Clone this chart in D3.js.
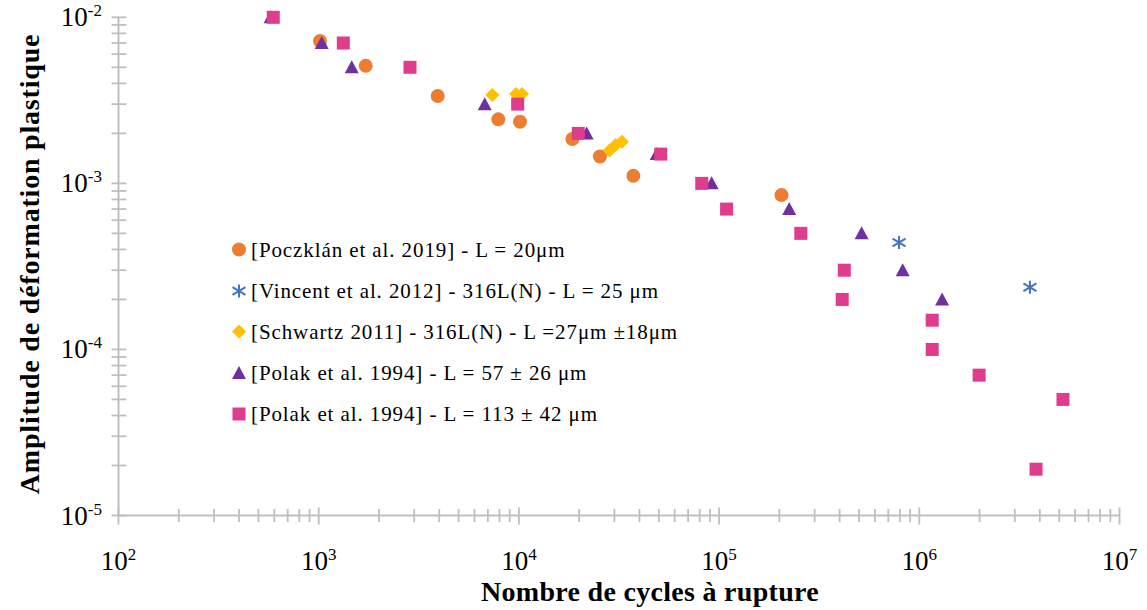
<!DOCTYPE html>
<html>
<head>
<meta charset="utf-8">
<script src="https://cdn.jsdelivr.net/npm/d3@7"></script>
<style>
  html, body { margin: 0; padding: 0; background: #fff; }
  svg { display: block; }
  text { font-family: "Liberation Serif", "Times New Roman", serif; fill: #000; }
</style>
</head>
<body>
<svg id="chart" width="1147" height="610"></svg>
<script>
// ---- Data ----
const seriesNames = [
  "[Poczklán et al. 2019] - L = 20μm",
  "[Vincent et al. 2012] - 316L(N) - L = 25 μm",
  "[Schwartz 2011] - 316L(N) - L =27μm ±18μm",
  "[Polak et al. 1994] - L = 57 ± 26 μm",
  "[Polak et al. 1994] - L = 113 ± 42 μm"
];
const seriesColors = ["#ED7D31", "#4472C4", "#FFC000", "#7030A0", "#E03C8E"];
const seriesShapes = ["circle", "asterisk", "diamond", "triangle", "square"];

const poczklanN   = [1015, 1717, 3930, 7890, 10130, 18500, 25400, 37300, 205000];
const poczklanEps = [7.2e-3, 5.1e-3, 3.36e-3, 2.43e-3, 2.35e-3, 1.85e-3, 1.45e-3, 1.11e-3, 8.5e-4];

const vincentN   = [792000, 3570000];
const vincentEps = [4.4e-4, 2.37e-4];

const schwartzN   = [7370, 9670, 10360, 28350, 30400, 32700];
const schwartzEps = [3.4e-3, 3.45e-3, 3.45e-3, 1.58e-3, 1.70e-3, 1.78e-3];

const polak57N   = [575, 1035, 1462, 6750, 21800, 48800, 91800, 224000, 515000, 826000, 1300000];
const polak57Eps = [1e-2, 7e-3, 5e-3, 3e-3, 2e-3, 1.5e-3, 1e-3, 7e-4, 5e-4, 3e-4, 2e-4];

const polak113N   = [593, 1327, 2858, 9860, 19800, 51100, 81900, 109000, 256000, 422000, 412000, 1160000, 1160000, 1990000, 5220000, 3830000];
const polak113Eps = [1e-2, 7e-3, 5e-3, 3e-3, 2e-3, 1.5e-3, 1e-3, 7e-4, 5e-4, 3e-4, 2e-4, 1.5e-4, 1e-4, 7e-5, 5e-5, 1.9e-5];

const xTickExps = [2, 3, 4, 5, 6, 7];
const yTickExps = [-5, -4, -3, -2];
const xTitle = "Nombre de cycles à rupture";
const yTitle = "Amplitude de déformation plastique";

const seriesData = [
  [poczklanN, poczklanEps],
  [vincentN, vincentEps],
  [schwartzN, schwartzEps],
  [polak57N, polak57Eps],
  [polak113N, polak113Eps]
];

// ---- Layout ----
const svg = d3.select("#chart");
const x = d3.scaleLog().domain([1e2, 1e7]).range([118.5, 1119.5]);
const y = d3.scaleLog().domain([1e-5, 1e-2]).range([515.5, 17.3]);
const axisColor = "#BFBFBF";

function logTicks(lo, hi) {
  const out = [];
  for (let e = lo; e < hi; e++) for (let m = 1; m < 10; m++) out.push(m * Math.pow(10, e));
  out.push(Math.pow(10, hi));
  return out;
}
const isMajor = d => Math.abs(Math.log10(d) - Math.round(Math.log10(d))) < 1e-9;

const gAxes = svg.append("g");
// Y axis
gAxes.append("line").attr("x1", x(1e2)).attr("x2", x(1e2)).attr("y1", y(1e-2)).attr("y2", y(1e-5))
  .attr("stroke", axisColor).attr("stroke-width", 2);
gAxes.selectAll(".yt").data(logTicks(-5, -2)).enter().append("line")
  .attr("x1", x(1e2) - 7).attr("x2", x(1e2) + 8)
  .attr("y1", d => y(d)).attr("y2", d => y(d))
  .attr("stroke", axisColor).attr("stroke-width", 1.8);
// X axis
gAxes.append("line").attr("x1", x(1e2)).attr("x2", x(1e7)).attr("y1", y(1e-5)).attr("y2", y(1e-5))
  .attr("stroke", axisColor).attr("stroke-width", 2);
gAxes.selectAll(".xt").data(logTicks(2, 7)).enter().append("line")
  .attr("x1", d => x(d)).attr("x2", d => x(d))
  .attr("y1", d => y(1e-5) - (isMajor(d) ? 8 : 6.5))
  .attr("y2", d => y(1e-5) + (isMajor(d) ? 9 : 6.5))
  .attr("stroke", axisColor).attr("stroke-width", 1.8);

// tick labels
const yl = svg.append("g");
yTickExps.forEach(e => {
  const t = yl.append("text").attr("x", 102).attr("y", y(Math.pow(10, e)) + 9)
    .attr("text-anchor", "end").style("font-size", "27px");
  t.append("tspan").text("10");
  t.append("tspan").attr("dy", -10).style("font-size", "17px").text(String(e));
});
xTickExps.forEach(e => {
  const t = yl.append("text").attr("x", x(Math.pow(10, e))).attr("y", 570)
    .attr("text-anchor", "middle").style("font-size", "27px");
  t.append("tspan").text("10");
  t.append("tspan").attr("dy", -10).style("font-size", "17px").text(String(e));
});

// axis titles
svg.append("text").attr("x", 650).attr("y", 601).attr("text-anchor", "middle")
  .style("font-size", "28px").style("font-weight", "bold").style("letter-spacing", "0.3px").text(xTitle);
svg.append("text").attr("transform", "translate(39,264) rotate(-90)").attr("text-anchor", "middle")
  .style("font-size", "28px").style("font-weight", "bold").style("letter-spacing", "0.8px").text(yTitle);

// markers
function drawMarker(g, shape, color, cx, cy) {
  if (shape === "circle") {
    g.append("circle").attr("cx", cx).attr("cy", cy).attr("r", 7).attr("fill", color);
  } else if (shape === "square") {
    g.append("rect").attr("x", cx - 6.5).attr("y", cy - 6.5).attr("width", 13).attr("height", 13).attr("fill", color);
  } else if (shape === "triangle") {
    g.append("path").attr("d", `M${cx},${cy - 7}L${cx + 7},${cy + 6}L${cx - 7},${cy + 6}Z`).attr("fill", color);
  } else if (shape === "diamond") {
    g.append("path").attr("d", `M${cx},${cy - 7}L${cx + 7},${cy}L${cx},${cy + 7}L${cx - 7},${cy}Z`).attr("fill", color);
  } else if (shape === "asterisk") {
    const s = 6.5;
    g.append("path").attr("d",
      `M${cx},${cy - s}L${cx},${cy + s}M${cx - s},${cy - s * 0.6}L${cx + s},${cy + s * 0.6}M${cx - s},${cy + s * 0.6}L${cx + s},${cy - s * 0.6}`)
      .attr("stroke", color).attr("stroke-width", 2).attr("fill", "none");
  }
}

const gPts = svg.append("g");
seriesData.forEach((sd, i) => {
  const g = gPts.append("g");
  sd[0].forEach((n, j) => drawMarker(g, seriesShapes[i], seriesColors[i], x(n), y(sd[1][j])));
});

// legend
const legendY = [249.5, 291, 331.5, 373, 414];
const gLeg = svg.append("g");
seriesNames.forEach((name, i) => {
  drawMarker(gLeg, seriesShapes[i], seriesColors[i], 239, legendY[i]);
  gLeg.append("text").attr("x", 251).attr("y", legendY[i] + 7)
    .style("font-size", "21px").style("letter-spacing", "0.9px").text(name);
});
</script>
</body>
</html>
